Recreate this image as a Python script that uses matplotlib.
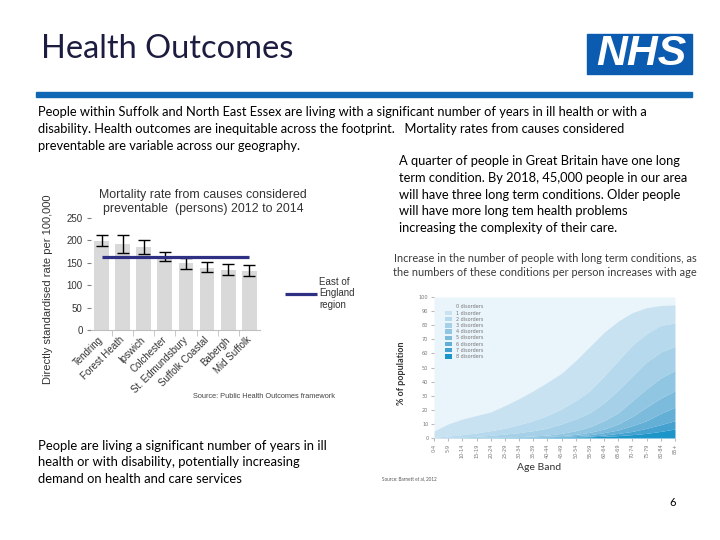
import matplotlib
matplotlib.use('Agg')
import matplotlib.pyplot as plt
from matplotlib.patches import Rectangle
import numpy as np

# ---------------- data ----------------
districts = ['Tendring', 'Forest Heath', 'Ipswich', 'Colchester',
             'St. Edmundsbury', 'Suffolk Coastal', 'Babergh', 'Mid Suffolk']
rates = [198, 191, 185, 160, 149, 138, 134, 132]
ci_low = [187, 171, 169, 154, 136, 129, 123, 121]
ci_high = [213, 213, 202, 173, 160, 151, 148, 146]
region_rate = 162
region_label = 'East of\nEngland\nregion'

age_bands = ['0-4', '5-9', '10-14', '15-19', '20-24', '25-29', '30-34', '35-39',
             '40-44', '45-49', '50-54', '55-59', '60-64', '65-69', '70-74',
             '75-79', '80-84', '85+']
# percentage of population with at least k disorders
ge1 = [5, 10, 13.5, 16, 18.5, 23, 28, 33.5, 39.5, 46, 55, 65, 75, 83, 89, 92.5, 94, 94.5]
ge2 = [0.5, 1.4, 2.4, 3.6, 5.2, 7, 9.5, 12.3, 16, 20.6, 26.5, 33.6, 44, 55, 66, 74, 80, 81.5]
ge3 = [0.2, 0.5, 0.7, 1.2, 1.9, 2.8, 3.8, 5.2, 7, 10, 13.5, 18, 25, 34, 44, 54, 61, 65]
ge4 = [0.1, 0.2, 0.3, 0.5, 0.7, 0.8, 1, 1.4, 2.1, 3.3, 5.2, 8, 12.3, 18, 26.5, 35, 42.6, 48]
ge5 = [0.05, 0.1, 0.2, 0.3, 0.4, 0.5, 0.6, 0.9, 1.2, 1.7, 2.6, 4, 6.4, 10, 15.4, 22, 28.4, 33.6]
ge6 = [0, 0.05, 0.1, 0.15, 0.2, 0.3, 0.4, 0.6, 0.8, 1.1, 1.7, 2.4, 3.8, 5.7, 8.8, 12.3, 17.5, 21.8]
ge7 = [0, 0, 0.05, 0.1, 0.1, 0.2, 0.3, 0.4, 0.5, 0.7, 1, 1.4, 2.1, 3.3, 4.7, 6.9, 9.5, 12.3]
ge8 = [0, 0, 0, 0.05, 0.05, 0.1, 0.15, 0.2, 0.3, 0.4, 0.6, 0.9, 1.2, 1.7, 2.4, 3.3, 4.7, 6.4]
band_labels = ['0 disorders', '1 disorder', '2 disorders', '3 disorders', '4 disorders',
               '5 disorders', '6 disorders', '7 disorders', '8 disorders']

# ---------------- figure ----------------
W, H = 720, 540
fig = plt.figure(figsize=(7.2, 5.4), dpi=100)
fig.patch.set_facecolor('white')
renderer = fig.canvas.get_renderer()
SANS = ['Lato', 'DejaVu Sans']
ARIAL = ['Liberation Sans', 'DejaVu Sans']


def fx(px):
    return px / W


def fy(py):
    return 1 - py / H


def text_block(lines, x, y0, dy, target_w, **kw):
    kw.setdefault('ha', 'left')
    kw.setdefault('va', 'center')
    ts = [fig.text(fx(x), fy(y0 + i * dy), l, fontsize=10, **kw) for i, l in enumerate(lines)]
    w = max(t.get_window_extent(renderer).width for t in ts)
    fs = 10 * target_w / w
    for t in ts:
        t.set_fontsize(fs)
    return ts


# header
text_block(['Health Outcomes'], 41, 49, 0, 252, family=SANS, color='#1c1c40')
fig.patches.append(Rectangle((fx(36), fy(97)), fx(692) - fx(36), 5 / H,
                             transform=fig.transFigure, color='#1068b4', zorder=0))
fig.patches.append(Rectangle((fx(587), fy(74)), fx(692) - fx(587), 40 / H,
                             transform=fig.transFigure, color='#0b5cb0', zorder=0))
text_block(['NHS'], 641, 54, 0, 90, family=ARIAL, color='white', weight='bold',
           style='italic', ha='center')

# body texts
text_block(['People within Suffolk and North East Essex are living with a significant number of years in ill health or with a',
            'disability. Health outcomes are inequitable across the footprint.   Mortality rates from causes considered',
            'preventable are variable across our geography.'],
           38, 112, 17, 613, family=SANS, color='black')
text_block(['A quarter of people in Great Britain have one long',
            'term condition. By 2018, 45,000 people in our area',
            'will have three long term conditions. Older people',
            'will have more long tem health problems',
            'increasing the complexity of their care.'],
           399, 161, 16.8, 289, family=SANS, color='black')
text_block(['People are living a significant number of years in ill',
            'health or with disability, potentially increasing',
            'demand on health and care services'],
           38, 446, 16.5, 288, family=SANS, color='black')
fig.text(fx(673), fy(503), '6', fontsize=8, family=SANS, ha='center', va='center')

# ---------------- bar chart ----------------
ax1 = fig.add_axes([fx(91), fy(330), fx(259.8) - fx(91), (330 - 218) / H])
x = np.arange(len(districts))
r = np.array(rates)
ax1.bar(x, r, width=0.7, color='#d9d9d9', zorder=1)
ax1.errorbar(x, r, yerr=[r - np.array(ci_low), np.array(ci_high) - r], fmt='none',
             ecolor='black', elinewidth=1, capsize=4.5, capthick=1, zorder=3)
ax1.plot(x[[0, -1]], [region_rate, region_rate], color='#2e3083', lw=2.3, zorder=4,
         label=region_label, solid_capstyle='butt')
ax1.set_xlim(-0.5, 7.5)
ax1.set_ylim(0, 250)
ax1.set_yticks(range(0, 251, 50))
for s in ['top', 'right', 'left']:
    ax1.spines[s].set_visible(False)
ax1.spines['bottom'].set_color('#bfbfbf')
ax1.tick_params(axis='y', length=3, color='#808080', labelsize=7, pad=3, labelcolor='#333333')
for lab in ax1.get_yticklabels():
    lab.set_family(ARIAL)
ax1.set_xticks(x)
ax1.set_xticklabels(districts, rotation=45, ha='right', va='center',
                    rotation_mode='anchor', fontsize=7, family=ARIAL, color='#333333')
ax1.set_xticks(np.arange(0.5, 7.5, 1), minor=True)
ax1.tick_params(axis='x', which='major', length=0, pad=6)
ax1.tick_params(axis='x', which='minor', length=4, color='#bfbfbf')
ax1.set_facecolor('none')
ax1.legend(loc='upper left', bbox_to_anchor=(fx(280), fy(272)), bbox_transform=fig.transFigure,
           frameon=False, borderpad=0, handlelength=3.3, handletextpad=0.2,
           prop={'family': ARIAL, 'size': 7}, labelcolor='#333333')

text_block(['Mortality rate from causes considered', 'preventable  (persons) 2012 to 2014'],
           203, 195, 14, 207, family=ARIAL, color='#333333', ha='center')
fig.text(fx(48), fy(289), 'Directly standardised rate per 100,000', rotation=90,
         family=ARIAL, fontsize=8, color='#333333', ha='center', va='center')
fig.text(fx(193), fy(397), 'Source: Public Health Outcomes framework', family=ARIAL,
         fontsize=5.3, color='#444444', ha='left', va='center')

# ---------------- area chart ----------------
ax2 = fig.add_axes([fx(434), fy(438), fx(675) - fx(434), 141 / H])
xs = np.arange(len(age_bands))
curves = [np.full(len(xs), 100.0), ge1, ge2, ge3, ge4, ge5, ge6, ge7, ge8, np.zeros(len(xs))]
colors = ['#eaf4fb', '#c8e2f1', '#b6d9ed', '#a5d0e8', '#91c6e2', '#7cbbdc',
          '#63afd6', '#45a2d0', '#1c95c8']
for i in range(9):
    ax2.fill_between(xs, curves[i + 1], curves[i], color=colors[i], lw=0, label=band_labels[i])
ax2.set_xlim(0, 17)
ax2.set_ylim(0, 100)
for s in ax2.spines.values():
    s.set_visible(False)
ax2.set_yticks(range(0, 101, 10))
ax2.set_xticks(xs)
ax2.set_xticklabels(age_bands, rotation=90)
ax2.tick_params(axis='both', length=2, color='#bbbbbb', labelsize=3.6, labelcolor='#777777', pad=2)
ax2.legend(loc='upper left', bbox_to_anchor=(0.035, 0.965), frameon=False, fontsize=3.5,
           handlelength=1.5, handleheight=1.0, labelspacing=0.25, handletextpad=0.8,
           borderpad=0, labelcolor='#777777')

text_block(['Increase in the number of people with long term conditions, as',
            'the numbers of these conditions per person increases with age'],
           545, 259, 13.5, 302, family=SANS, color='#3a3a3a', ha='center')
fig.text(fx(401), fy(373), '% of population', rotation=90, family=SANS, fontsize=6.5,
         color='#333333', ha='center', va='center', weight='bold')
fig.text(fx(539), fy(468), 'Age Band', family=SANS, fontsize=7.5, color='#333333',
         ha='center', va='center')
fig.text(fx(382), fy(479), 'Source: Barnett et al, 2012', family=SANS, fontsize=3.3,
         color='#555555', ha='left', va='center')

fig.savefig('out.png', dpi=100)
